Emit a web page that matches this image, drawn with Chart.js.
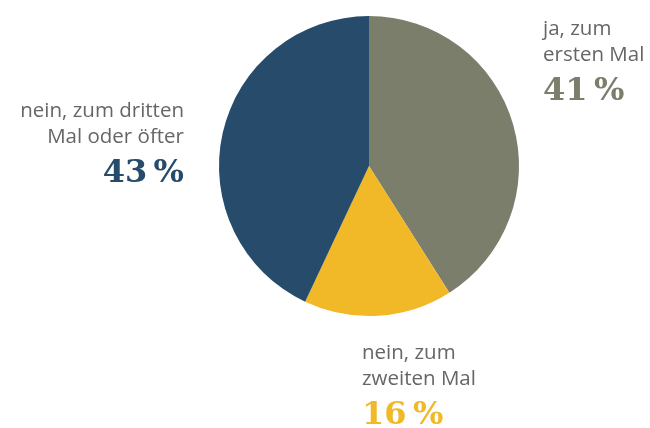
<!DOCTYPE html>
<html>
<head>
<meta charset="utf-8">
<script src="https://cdn.jsdelivr.net/npm/chart.js@4/dist/chart.umd.min.js"></script>
<style>
  html, body { margin: 0; padding: 0; background: #fff; }
  #wrap { width: 650px; height: 428px; position: relative; }
</style>
</head>
<body>
<div id="wrap"><canvas id="pie"></canvas></div>
<script>
// Daten
const kategorien = ["ja, zum ersten Mal", "nein, zum zweiten Mal", "nein, zum dritten Mal oder öfter"];
const anteile = [41, 16, 43];
const farben = ["#7a7e6b", "#f1b927", "#264b6b"];

// Beschriftungen: Textzeilen je Segment
const labelZeilen = [["ja, zum", "ersten Mal"], ["nein, zum", "zweiten Mal"], ["nein, zum dritten", "Mal oder öfter"]];
// Grundlinie der ersten Zeile
const labelPos = [
  { x: 543, y: 35, align: "left" },
  { x: 362, y: 359, align: "left" },
  { x: 184, y: 117, align: "right" }
];

const labelPlugin = {
  id: "labelPlugin",
  afterDraw(chart) {
    const ctx = chart.ctx;
    ctx.save();
    ctx.textBaseline = "alphabetic";
    anteile.forEach((v, i) => {
      const p = labelPos[i];
      ctx.textAlign = p.align;
      ctx.fillStyle = "#666666";
      ctx.font = "20.5px 'Open Sans'";
      labelZeilen[i].forEach((z, j) => {
        ctx.fillText(z, p.x, p.y + j * 26);
      });
      ctx.fillStyle = farben[i];
      ctx.font = "bold 32px 'DejaVu Serif'";
      ctx.fillText(v + "\u202F%", p.x, p.y + 65);
    });
    ctx.restore();
  }
};

new Chart(document.getElementById("pie"), {
  type: "pie",
  data: {
    labels: kategorien,
    datasets: [{
      data: anteile,
      backgroundColor: farben,
      borderWidth: 0
    }]
  },
  options: {
    responsive: true,
    maintainAspectRatio: false,
    animation: false,
    layout: { padding: { left: 219, right: 131, top: 16, bottom: 112 } },
    plugins: {
      legend: { display: false },
      tooltip: { enabled: false }
    }
  },
  plugins: [labelPlugin]
});
</script>
</body>
</html>
